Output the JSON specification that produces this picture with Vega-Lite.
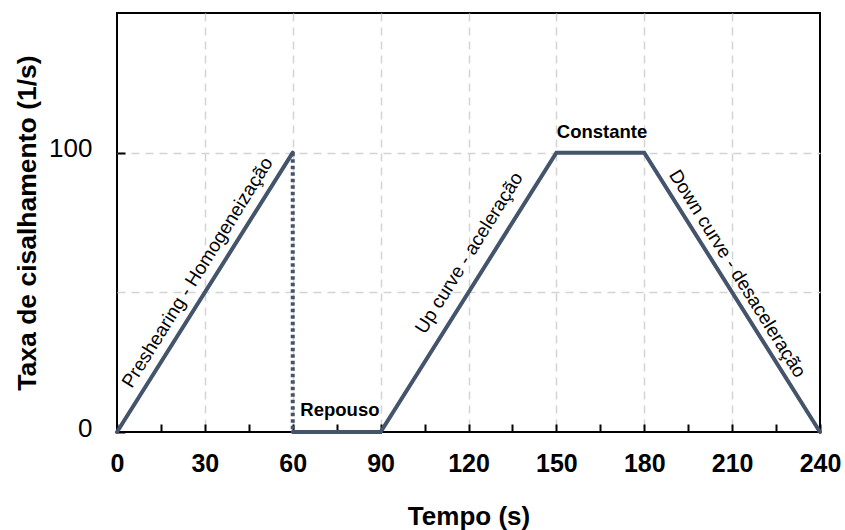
{
  "$schema": "https://vega.github.io/schema/vega-lite/v6.json",
  "width": 703,
  "height": 419,
  "autosize": {"type": "none"},
  "padding": {"left": 117, "top": 13, "right": 25, "bottom": 98},
  "config": {
    "font": "Liberation Sans",
    "view": {"stroke": "#000000", "strokeWidth": 2},
    "axis": {"domain": false}
  },
  "datasets": {
    "profile": [
      {"tempo": 0, "taxa": 0, "seg": "a", "ord": 1},
      {"tempo": 60, "taxa": 100, "seg": "a", "ord": 2},
      {"tempo": 60, "taxa": 100, "seg": "b", "ord": 1},
      {"tempo": 60, "taxa": 0, "seg": "b", "ord": 2},
      {"tempo": 60, "taxa": 0, "seg": "c", "ord": 1},
      {"tempo": 90, "taxa": 0, "seg": "c", "ord": 2},
      {"tempo": 150, "taxa": 100, "seg": "c", "ord": 3},
      {"tempo": 180, "taxa": 100, "seg": "c", "ord": 4},
      {"tempo": 240, "taxa": 0, "seg": "c", "ord": 5}
    ],
    "notes": [
      {"label": "Preshearing - Homogeneização", "tempo": 27.5, "taxa": 57.1},
      {"label": "Up curve - aceleração", "tempo": 120.2, "taxa": 64.1},
      {"label": "Down curve - desaceleração", "tempo": 211.8, "taxa": 56.7},
      {"label": "Repouso", "tempo": 76.1, "taxa": 7.9},
      {"label": "Constante", "tempo": 165.6, "taxa": 107.4}
    ]
  },
  "encoding": {
    "x": {
      "field": "tempo",
      "type": "quantitative",
      "scale": {"domain": [0, 240], "nice": false},
      "axis": {
        "title": "Tempo (s)",
        "titleFontSize": 26,
        "titleFontWeight": "bold",
        "titleColor": "#000000",
        "titlePadding": 27,
        "values": [0, 15, 30, 45, 60, 75, 90, 105, 120, 135, 150, 165, 180, 195, 210, 225, 240],
        "labelExpr": "datum.value % 30 == 0 ? datum.label : ''",
        "labelFontSize": 25,
        "labelFontWeight": "bold",
        "labelColor": "#000000",
        "labelPadding": 27,
        "labelFlush": false,
        "labelOverlap": false,
        "tickSize": -8,
        "tickWidth": 2,
        "tickColor": "#000000",
        "grid": true,
        "gridColor": "#d4d4d4",
        "gridWidth": 1.5,
        "gridDash": [8, 6],
        "gridOpacity": {"condition": {"test": "datum.value % 30 == 0 && datum.value > 0 && datum.value < 240", "value": 1}, "value": 0}
      }
    },
    "y": {
      "field": "taxa",
      "type": "quantitative",
      "scale": {"domain": [0, 150], "nice": false},
      "axis": {
        "title": "Taxa de cisalhamento (1/s)",
        "titleFontSize": 26.5,
        "titleFontWeight": "bold",
        "titleColor": "#000000",
        "titlePadding": 7,
        "values": [0, 50, 100],
        "labelExpr": "datum.value == 50 ? '' : datum.label",
        "labelFontSize": 26,
        "labelFontWeight": "normal",
        "labelColor": "#000000",
        "labelPadding": 33,
        "labelOffset": -4,
        "labelFlush": false,
        "labelOverlap": false,
        "tickSize": -8,
        "tickWidth": 2,
        "tickColor": "#000000",
        "tickOpacity": {"condition": {"test": "datum.value == 50", "value": 0}, "value": 1},
        "grid": true,
        "gridColor": "#d4d4d4",
        "gridWidth": 1.5,
        "gridDash": [8, 6],
        "gridOpacity": {"condition": {"test": "datum.value > 0", "value": 1}, "value": 0}
      }
    }
  },
  "layer": [
    {
      "data": {"name": "profile"},
      "transform": [{"filter": "datum.seg != 'b'"}],
      "mark": {"type": "line", "color": "#44546A", "strokeWidth": 4, "strokeCap": "round"},
      "encoding": {"detail": {"field": "seg"}, "order": {"field": "ord"}}
    },
    {
      "data": {"name": "profile"},
      "transform": [{"filter": "datum.seg == 'b'"}],
      "mark": {"type": "line", "color": "#44546A", "strokeWidth": 4, "strokeDash": [3.5, 3]},
      "encoding": {"order": {"field": "ord"}}
    },
    {
      "data": {"name": "notes"},
      "transform": [{"filter": "datum.label == 'Preshearing - Homogeneização'"}],
      "mark": {"type": "text", "angle": 302, "fontSize": 19, "color": "#000000"},
      "encoding": {"text": {"field": "label"}}
    },
    {
      "data": {"name": "notes"},
      "transform": [{"filter": "datum.label == 'Up curve - aceleração'"}],
      "mark": {"type": "text", "angle": 302, "fontSize": 19, "color": "#000000"},
      "encoding": {"text": {"field": "label"}}
    },
    {
      "data": {"name": "notes"},
      "transform": [{"filter": "datum.label == 'Down curve - desaceleração'"}],
      "mark": {"type": "text", "angle": 58, "fontSize": 19, "color": "#000000"},
      "encoding": {"text": {"field": "label"}}
    },
    {
      "data": {"name": "notes"},
      "transform": [{"filter": "datum.label == 'Repouso' || datum.label == 'Constante'"}],
      "mark": {"type": "text", "fontSize": 18.5, "fontWeight": "bold", "color": "#000000"},
      "encoding": {"text": {"field": "label"}}
    }
  ]
}
